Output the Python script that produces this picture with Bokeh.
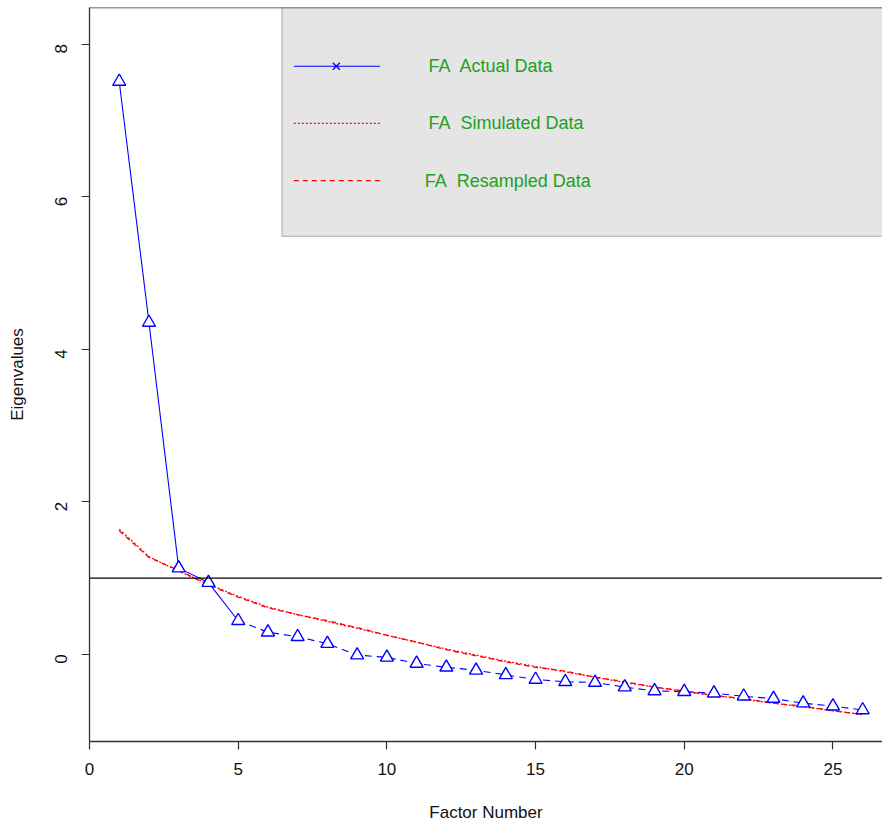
import math
from bokeh.plotting import figure
from bokeh.models import Range1d, FixedTicker, Span, BoxAnnotation, Label
from bokeh.embed import file_html
from bokeh.resources import INLINE

# ---- data ----
factors = list(range(1, 27))
fa_actual = [7.51, 4.35, 1.13, 0.94, 0.44, 0.29, 0.23, 0.14, -0.01, -0.04, -0.12, -0.17, -0.21,
             -0.27, -0.33, -0.36, -0.37, -0.43, -0.48, -0.49, -0.51, -0.55, -0.58, -0.64, -0.68, -0.73]
fa_simulated = [1.64, 1.28, 1.09, 0.92, 0.76, 0.62, 0.52, 0.43, 0.34, 0.25, 0.16, 0.07, -0.01,
                -0.09, -0.16, -0.23, -0.30, -0.37, -0.43, -0.49, -0.54, -0.59, -0.64, -0.69, -0.74, -0.79]
fa_resampled = [1.62, 1.27, 1.10, 0.91, 0.75, 0.61, 0.52, 0.44, 0.35, 0.25, 0.16, 0.06, -0.02,
                -0.10, -0.17, -0.22, -0.30, -0.36, -0.43, -0.48, -0.54, -0.58, -0.64, -0.68, -0.74, -0.79]
threshold = 1.0
x_ticks = [0, 5, 10, 15, 20, 25]
y_ticks = [0, 2, 4, 6, 8]
legend_labels = ["FA\u00a0 Actual Data", "FA\u00a0 Simulated Data", "FA\u00a0 Resampled Data"]

# ---- layout constants ----
X_START, X_END = 0.0, 26.667
Y_START, Y_END = -1.143, 8.48
FONT = "Liberation Sans"
GREEN = "#22a022"
AXIS_COLOR = "#333333"

p = figure(width=882, height=826, output_backend="svg", toolbar_location=None,
           x_range=Range1d(X_START, X_END), y_range=Range1d(Y_START, Y_END),
           min_border_left=89, min_border_right=0, min_border_top=7, min_border_bottom=85)
p.outline_line_color = None
p.xgrid.visible = False
p.ygrid.visible = False
p.background_fill_color = "white"

for ax in (p.xaxis[0], p.yaxis[0]):
    ax.axis_line_color = AXIS_COLOR
    ax.axis_line_width = 1.3
    ax.major_tick_line_color = AXIS_COLOR
    ax.major_tick_line_width = 1.2
    ax.major_tick_in = 0
    ax.major_tick_out = 8
    ax.minor_tick_line_color = None
    ax.major_label_text_font = FONT
    ax.major_label_text_font_size = "17px"
    ax.major_label_text_color = "#111111"
    ax.axis_label_text_font = FONT
    ax.axis_label_text_font_size = "17px"
    ax.axis_label_text_font_style = "normal"
    ax.axis_label_text_color = "#111111"

p.xaxis.ticker = FixedTicker(ticks=x_ticks)
p.yaxis.ticker = FixedTicker(ticks=y_ticks)
p.xaxis.axis_label = "Factor Number"
p.yaxis.axis_label = "Eigenvalues"
p.xaxis.major_label_standoff = 13
p.xaxis.axis_label_standoff = 25
p.yaxis.major_label_orientation = math.pi / 2
p.yaxis.major_label_standoff = 20
p.yaxis.axis_label_standoff = 20

# top frame line
p.add_layout(Span(location=Y_END, dimension="width", line_color=AXIS_COLOR, line_width=1.5))

# legend box
p.add_layout(BoxAnnotation(left=6.47, right=40, top=20, bottom=5.48,
                           fill_color="#E5E5E5", fill_alpha=1.0,
                           line_color=AXIS_COLOR, line_width=1.2, level="underlay"))

# threshold line
p.add_layout(Span(location=threshold, dimension="width", line_color="black", line_width=1.2))

# simulated & resampled
p.line(factors, fa_simulated, line_color="red", line_width=1.3, line_dash="2 2")
p.line(factors, fa_resampled, line_color="red", line_width=1.3, line_dash="5 4")

# actual data
p.line(factors[:5], fa_actual[:5], line_color="blue", line_width=1.1)
p.line(factors[4:], fa_actual[4:], line_color="blue", line_width=1.1, line_dash="7 5")
p.scatter(factors, fa_actual, marker="triangle", size=13, line_color="blue",
          fill_color="white", line_width=1.4)

# legend entries
leg_x0, leg_x1, leg_xm = 6.87, 9.77, 8.3
leg_rows = [7.71, 6.96, 6.21]
leg_text_x = [11.4, 11.4, 11.27]
p.segment(x0=[leg_x0], y0=[leg_rows[0]], x1=[leg_x1], y1=[leg_rows[0]], line_color="blue", line_width=1.2)
p.scatter(x=[leg_xm], y=[leg_rows[0]], marker="x", size=10, line_color="blue", line_width=1.3)
p.segment(x0=[leg_x0], y0=[leg_rows[1]], x1=[leg_x1], y1=[leg_rows[1]], line_color="red", line_width=1.2, line_dash="2 2")
p.segment(x0=[leg_x0], y0=[leg_rows[2]], x1=[leg_x1], y1=[leg_rows[2]], line_color="red", line_width=1.2, line_dash="5 4")
for lab, ty, tx in zip(legend_labels, leg_rows, leg_text_x):
    p.add_layout(Label(x=tx, y=ty, text=lab, text_font=FONT, text_font_size="18px",
                       text_color=GREEN, text_baseline="middle", text_align="left"))

open("out.html", "w").write(file_html(p, INLINE))
